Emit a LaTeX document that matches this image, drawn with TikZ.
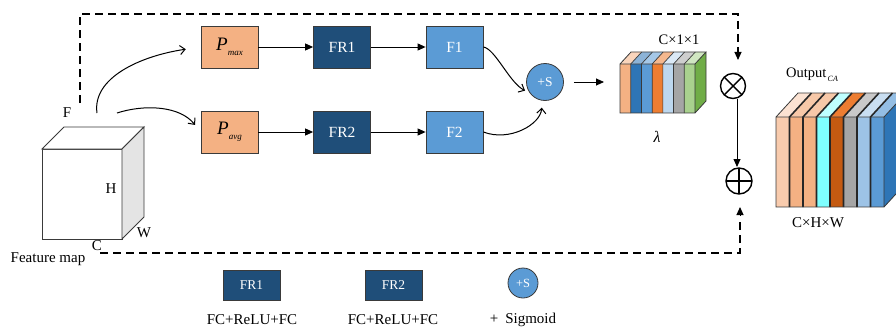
\documentclass[tikz,border=0pt]{standalone}
\usepackage{fontspec}
\setmainfont{Liberation Serif}
\usetikzlibrary{arrows.meta}

% palette
\definecolor{peach}{HTML}{F4B183}
\definecolor{navy}{HTML}{1F4E79}
\definecolor{sky}{HTML}{5B9BD5}
\definecolor{edge}{HTML}{3A3A3A}
\definecolor{cubeside}{HTML}{E4E4E4}
% lambda strips
\definecolor{lamA}{HTML}{F4B183}
\definecolor{lamB}{HTML}{2E75B6}
\definecolor{lamC}{HTML}{5B9BD5}
\definecolor{lamD}{HTML}{ED7D31}
\definecolor{lamE}{HTML}{BDD7EE}
\definecolor{lamF}{HTML}{A5A5A5}
\definecolor{lamG}{HTML}{A9D18E}
\definecolor{lamSide}{HTML}{70AD47}
% output strips
\definecolor{outA}{HTML}{F8CBAD}
\definecolor{outB}{HTML}{F4B183}
\definecolor{outC}{HTML}{F4B183}
\definecolor{outD}{HTML}{7FFFFF}
\definecolor{outE}{HTML}{C55A11}
\definecolor{outF}{HTML}{A5A5A5}
\definecolor{outG}{HTML}{9DC3E6}
\definecolor{outH}{HTML}{5B9BD5}
\definecolor{outSide}{HTML}{2E75B6}

\tikzset{
  box/.style={draw=edge, line width=0.8pt, minimum width=57pt, minimum height=42pt,
              inner sep=0pt, font=\fontsize{15.5}{17}\selectfont},
  poolbox/.style={box, fill=peach},
  frbox/.style={box, fill=navy, text=white},
  fcbox/.style={box, fill=sky, text=white},
  sigma/.style={circle, draw=edge, line width=0.8pt, fill=sky, text=white, inner sep=0pt,
                minimum size=37pt, font=\fontsize{13.5}{15}\selectfont},
  lbl/.style={inner sep=0pt, font=\fontsize{15}{17}\selectfont},
  flow/.style={-{Triangle[length=8pt,width=7pt]}, line width=0.9pt},
  curvy/.style={-{Straight Barb[length=5pt,width=9pt]}, line width=1pt},
  skip/.style={dash pattern=on 8pt off 5pt, line width=1.1pt},
  opmult/.style={circle, draw, line width=1.4pt, minimum size=25pt, inner sep=0pt,
                 path picture={\draw[line width=1.4pt]
                   (path picture bounding box.north west) -- (path picture bounding box.south east)
                   (path picture bounding box.north east) -- (path picture bounding box.south west);}},
  opadd/.style={circle, draw, line width=1.4pt, minimum size=26pt, inner sep=0pt,
                path picture={\draw[line width=1.4pt]
                   (path picture bounding box.north) -- (path picture bounding box.south)
                   (path picture bounding box.east) -- (path picture bounding box.west);}}
}

\begin{document}
\begin{tikzpicture}[x=1pt,y=-1pt]
\useasboundingbox (0,0) rectangle (896,329);

% ---------- input feature map (cube) ----------
\begin{scope}[draw=edge, line width=0.9pt]
  \filldraw[fill=white] (42,149) rectangle (122,239);
  \filldraw[fill=white] (42,149) -- (64,127) -- (144,127) -- (122,149) -- cycle;
  \filldraw[fill=cubeside] (122,149) -- (144,127) -- (144,217) -- (122,239) -- cycle;
\end{scope}
\node[lbl] (lF) at (67,113) {F};
\node[lbl] (lH) at (111,189) {H};
\node[lbl] (lW) at (144,233) {W};
\node[lbl] (lC) at (97,246) {C};
\node[lbl] (fmap) at (48,259) {Feature map};
\coordinate (fmUp) at (97,113);
\coordinate (fmDown) at (117,113);

% ---------- pooling / FC branches ----------
\node[poolbox] (pmax) at (229.5,47)
  {\fontsize{19}{19}\selectfont\itshape P\raisebox{-5pt}{\fontsize{9}{9}\selectfont max}};
\node[poolbox] (pavg) at (229.5,132)
  {\fontsize{19}{19}\selectfont\itshape P\raisebox{-5pt}{\fontsize{9}{9}\selectfont avg}};
\node[frbox] (fr1) at (342,47) {FR1};
\node[frbox] (fr2) at (342,132) {FR2};
\node[fcbox] (f1) at (454.5,47) {F1};
\node[fcbox] (f2) at (454.5,132) {F2};
\node[sigma] (sig) at (545,82) {+S};

\draw[curvy, shorten >=15pt] (fmUp) .. controls (92,78) and (140,56) .. (pmax.west);
\draw[curvy, shorten >=9pt] (fmDown) .. controls (145,104) and (180,106) .. (pavg.west);
\draw[flow] (pmax) -- (fr1);
\draw[flow] (fr1) -- (f1);
\draw[flow] (pavg) -- (fr2);
\draw[flow] (fr2) -- (f2);
\draw[curvy, shorten >=5pt] (f1.east) .. controls +(12,2) and +(-20,-10) .. (sig.215);
\draw[curvy, shorten >=7pt] (f2.east) .. controls +(26,10) and +(-2,24) .. (sig.262);

% ---------- channel weights lambda ----------
\coordinate (lamIn) at (604,82);
\draw[flow, shorten <=10pt] (sig.east) -- (lamIn);
\begin{scope}
  \foreach \c [count=\i from 0] in {lamA,lamB,lamC,lamD,lamE,lamF,lamG} {
    \fill[\c] ({620+\i*10.714},64) rectangle ++(10.714,49);
    \fill[\c!55!white] ({620+\i*10.714},64) -- ++(11,-12) -- ++(10.714,0) -- ++(-11,12) -- cycle;
  }
  \fill[lamSide] (695,64) -- (706,52) -- (706,101) -- (695,113) -- cycle;
  \foreach \i in {1,...,6} {
    \draw[edge, line width=0.7pt] ({620+\i*10.714},113) -- ++(0,-49) -- ++(11,-12);
  }
  \draw[edge, line width=0.8pt] (620,64) rectangle (695,113)
    (620,64) -- (631,52) -- (706,52) -- (695,64)
    (706,52) -- (706,101) -- (695,113);
\end{scope}
\node[lbl, font=\fontsize{14.5}{16}\selectfont] (lamDim) at (679,40) {C×1×1};
\node[lbl, font=\fontsize{16}{18}\selectfont] (lam) at (657,137) {\itshape λ};

% ---------- fusion ----------
\node[opmult] (mul) at (733,86) {};
\node[opadd] (add) at (739,181) {};
\draw[flow, shorten <=13pt, shorten >=14pt] (737,86) -- (737,181);

% skip connections
\coordinate (skipA) at (80,103);
\coordinate (skipB) at (100,253);
\draw[skip] (skipA) -- (80,14) -- (738,14) -- (738,52);
\draw[-{Triangle[length=8pt,width=7pt]}, line width=1pt] (738,50) -- (738,60);
\draw[skip] (skipB) -- (740,253) -- (740,218);
\draw[-{Triangle[length=8pt,width=7pt]}, line width=1pt] (740,216) -- (740,207);

% ---------- output feature map ----------
\begin{scope}
  \foreach \c [count=\i from 0] in {outA,outB,outC,outD,outE,outF,outG,outH} {
    \fill[\c] ({776+\i*13.5},117) rectangle ++(13.5,90);
  }
  \foreach \c [count=\i from 0] in {outA!55!white,outB!70!white,outC!70!white,outD!50!white,
                                     lamD,outF!60!white,outG!55!white,outH!65!white} {
    \fill[\c] ({776+\i*13.5},117) -- ++(22,-24) -- ++(13.5,0) -- ++(-22,24) -- cycle;
  }
  \fill[outSide] (884,117) -- (906,93) -- (906,183) -- (884,207) -- cycle;
  \foreach \i in {1,...,7} {
    \draw[black!85, line width=1.6pt] ({776+\i*13.5},207) -- ++(0,-90) -- ++(22,-24);
  }
  \draw[edge, line width=0.8pt] (776,117) rectangle (884,207)
    (776,117) -- (798,93) -- (906,93)
    (884,117) -- (906,93)
    (884,207) -- (906,183);
\end{scope}
\node[lbl, font=\fontsize{14.5}{16}\selectfont] (outName) at (812,75)
  {Output\raisebox{-4pt}{\fontsize{8}{8}\selectfont\itshape\,CA}};
\node[lbl, font=\fontsize{15}{17}\selectfont] (outDim) at (818,223) {C×H×W};

% ---------- legend ----------
\node[frbox, minimum height=30pt, font=\fontsize{13.5}{15}\selectfont] (keyFR1) at (251.5,285) {FR1};
\node[frbox, minimum height=30pt, font=\fontsize{13.5}{15}\selectfont] (keyFR2) at (393.5,285) {FR2};
\node[sigma, minimum size=30pt, font=\fontsize{12.5}{14}\selectfont] (keySig) at (523,283) {+S};
\node[lbl] (keyFR1txt) at (252,320) {FC+ReLU+FC};
\node[lbl] (keyFR2txt) at (393,320) {FC+ReLU+FC};
\node[lbl] (keySigtxt) at (523,320) {+\hspace{7pt}Sigmoid};
\end{tikzpicture}
\end{document}
